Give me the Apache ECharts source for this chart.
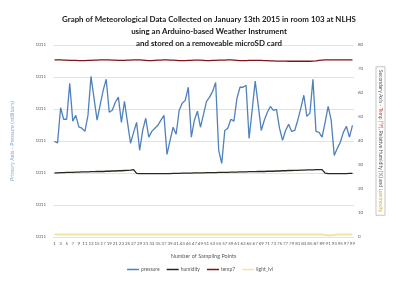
<!DOCTYPE html>
<html><head><meta charset="utf-8">
<script src="https://cdn.jsdelivr.net/npm/echarts@6/dist/echarts.min.js"></script>
<style>html,body{margin:0;padding:0;background:#fff}#c{width:400px;height:287px}</style>
</head><body><div id="c"></div>
<script>
var samples = [];
for (var i = 1; i <= 99; i++) samples.push(String(i));

var pressure = [
1010.999,1010.994,1011.104,1011.068,1011.068,1011.180,1011.062,1011.080,1011.044,1011.040,
1011.030,1011.080,1011.202,1011.133,1011.065,1011.112,1011.158,1011.193,1011.090,1011.096,
1011.121,1011.137,1011.058,1011.124,1011.058,1010.993,1011.027,1011.058,1010.971,1011.033,
1011.071,1011.012,1011.030,1011.040,1011.049,1011.065,1011.080,1010.958,1011.002,1011.043,
1011.021,1011.096,1011.118,1011.127,1011.168,1011.012,1011.065,1011.093,1011.043,1011.083,
1011.124,1011.137,1011.155,1011.183,1010.971,1010.930,1011.033,1011.040,1011.068,1011.062,
1011.133,1011.168,1011.168,1011.174,1011.008,1011.096,1011.187,1011.112,1011.033,1011.065,
1011.090,1011.108,1011.096,1011.099,1011.040,1011.002,1011.033,1011.052,1011.030,1011.033,
1011.065,1011.102,1011.143,1011.077,1011.087,1011.193,1011.030,1011.027,1011.012,1011.058,
1011.108,1011.065,1010.955,1010.977,1010.996,1011.027,1011.046,1011.012,1011.049
];

var humidity = [
26.7,26.7,26.8,26.8,26.9,26.9,26.9,27.0,27.0,27.1,
27.1,27.1,27.2,27.2,27.3,27.3,27.3,27.4,27.4,27.5,
27.5,27.6,27.6,27.7,27.8,27.9,28.1,26.5,26.4,26.4,
26.4,26.4,26.4,26.4,26.4,26.4,26.4,26.4,26.4,26.5,
26.5,26.5,26.6,26.6,26.6,26.6,26.7,26.7,26.7,26.7,
26.8,26.8,26.8,26.8,26.9,26.9,26.9,26.9,27.0,27.0,
27.0,27.1,27.1,27.1,27.2,27.2,27.2,27.3,27.3,27.3,
27.4,27.4,27.4,27.5,27.5,27.6,27.6,27.7,27.7,27.8,
27.8,27.9,27.9,28.0,28.0,28.0,28.1,28.1,28.1,26.6,
26.4,26.4,26.4,26.4,26.4,26.4,26.4,26.5,26.5
];

var temp7 = [
73.8,73.8,73.8,73.7,73.7,73.6,73.6,73.6,73.5,73.5,
73.5,73.6,73.6,73.7,73.7,73.8,73.8,73.8,73.8,73.7,
73.7,73.6,73.6,73.6,73.7,73.7,73.8,73.8,73.8,73.7,
73.6,73.5,73.5,73.6,73.7,73.7,73.8,73.8,73.7,73.7,
73.6,73.5,73.5,73.5,73.6,73.6,73.7,73.7,73.7,73.6,
73.5,73.5,73.6,73.6,73.7,73.7,73.7,73.8,73.8,73.7,
73.6,73.5,73.5,73.5,73.6,73.6,73.6,73.6,73.6,73.5,
73.5,73.4,73.4,73.3,73.3,73.3,73.3,73.2,73.2,73.2,
73.2,73.2,73.2,73.2,73.2,73.3,73.4,73.6,73.7,73.8,
73.8,73.8,73.8,73.8,73.8,73.8,73.8,73.8,73.8
];

var lightLvl = [
1.0,1.0,1.0,1.0,1.0,1.0,1.0,1.0,1.0,1.0,
1.0,1.0,1.0,1.0,1.0,1.0,1.0,1.0,1.0,1.0,
1.0,1.0,1.0,1.0,1.0,1.0,1.0,1.0,1.0,1.0,
1.0,1.0,1.0,1.0,1.0,1.0,1.0,1.0,1.0,1.0,
1.0,1.0,1.0,1.0,1.0,1.0,1.0,1.0,1.0,1.0,
1.0,1.0,1.0,1.0,1.0,1.0,1.0,1.0,1.0,1.0,
1.0,1.0,1.0,1.0,1.0,1.0,1.0,1.0,1.0,1.0,
1.0,1.0,1.0,1.0,1.0,1.0,1.0,1.0,1.0,1.0,
1.0,1.0,1.0,1.0,1.0,1.0,1.0,1.0,1.0,0.8,
0.7,0.7,0.8,1.0,1.0,1.0,1.0,1.0,1.0
];

var FONT = 'Lato, "Open Sans", sans-serif';
var chart = echarts.init(document.getElementById('c'), null, {renderer: 'canvas'});
chart.setOption({
  animation: false,
  backgroundColor: '#ffffff',
  textStyle: {fontFamily: FONT},
  title: {
    text: 'Graph of Meteorological Data Collected on January 13th 2015 in room 103 at NLHS\nusing an Arduino-based Weather Instrument\nand stored on a removeable microSD card',
    left: 204, top: 8, textAlign: 'center',
    textStyle: {fontSize: 7.9, fontWeight: 'bold', color: '#1a1a1a', lineHeight: 12, fontFamily: FONT}
  },
  legend: {
    bottom: 10, left: 'center',
    icon: 'rect', itemWidth: 12, itemHeight: 1.5, itemGap: 7,
    textStyle: {fontSize: 5, color: '#595959', fontFamily: FONT, padding: [0, 0, 0, -3]},
    data: ['pressure', 'humidity', 'temp7', 'light_lvl']
  },
  grid: {left: 53, right: 46, top: 45, bottom: 50, containLabel: false},
  xAxis: {
    type: 'category', data: samples, boundaryGap: true,
    name: 'Number of Sampling Points', nameLocation: 'middle', nameGap: 16,
    nameTextStyle: {fontSize: 5.5, color: '#595959'},
    axisLine: {show: false}, axisTick: {show: false},
    axisLabel: {interval: 1, fontSize: 4.5, color: '#595959', margin: 4}
  },
  yAxis: [{
    type: 'value', min: 1010.7, max: 1011.3, interval: 0.1,
    name: 'Primary Axis - Pressure (millibars)', nameLocation: 'middle', nameGap: 38, nameRotate: 90,
    nameTextStyle: {fontSize: 5.5, color: '#7ea6d6'},
    axisLine: {show: false}, axisTick: {show: false},
    axisLabel: {fontSize: 4.5, color: '#595959', margin: 7, formatter: function (v) { return v.toFixed(0); }},
    splitLine: {lineStyle: {color: '#e3e3e3', width: 1}}
  }, {
    type: 'value', min: 0, max: 80, interval: 10,
    name: '{a|Secondary Axis - }{r|Temp (°F)}{a|, Relative Humidity (%) and }{y|Luminosity}',
    nameLocation: 'middle', nameGap: 22, nameRotate: -90,
    nameTextStyle: {
      fontSize: 5, color: '#595959', borderColor: '#a0a0a0', borderWidth: 0.6, padding: [2, 3],
      rich: {
        a: {fontSize: 5, color: '#595959'},
        r: {fontSize: 5, color: '#c0504d'},
        y: {fontSize: 5, color: '#c9b13a'}
      }
    },
    axisLine: {show: false}, axisTick: {show: false},
    axisLabel: {fontSize: 4.5, color: '#595959', margin: 4},
    splitLine: {show: false}
  }],
  series: [{
    name: 'pressure', type: 'line', yAxisIndex: 0, data: pressure, symbol: 'none',
    lineStyle: {color: '#4f81bd', width: 1.3}, itemStyle: {color: '#4f81bd'}
  }, {
    name: 'humidity', type: 'line', yAxisIndex: 1, data: humidity, symbol: 'none',
    lineStyle: {color: '#262a1a', width: 1.3}, itemStyle: {color: '#262a1a'}
  }, {
    name: 'temp7', type: 'line', yAxisIndex: 1, data: temp7, symbol: 'none',
    lineStyle: {color: '#7f1515', width: 1.4}, itemStyle: {color: '#7f1515'}
  }, {
    name: 'light_lvl', type: 'line', yAxisIndex: 1, data: lightLvl, symbol: 'none',
    lineStyle: {color: '#f1e4a0', width: 2}, itemStyle: {color: '#f1e4a0'}
  }]
});
</script></body></html>
